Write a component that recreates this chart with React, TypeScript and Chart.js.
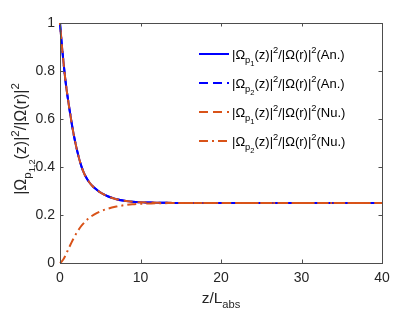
import React, { useEffect, useRef } from "react";
import { Chart, registerables } from "chart.js";

Chart.register(...registerables);

const zValues = [0, 0.25, 0.5, 0.75, 1, 1.25, 1.5, 1.75, 2, 2.5, 3, 3.5, 4, 4.5, 5, 6, 7, 8, 9, 10, 11, 12, 14, 16, 20, 25, 30, 35, 40];
const p1Analytic = [1, 0.9, 0.815, 0.74, 0.68, 0.625, 0.573, 0.527, 0.487, 0.42, 0.373, 0.343, 0.322, 0.307, 0.294, 0.277, 0.266, 0.259, 0.255, 0.253, 0.252, 0.251, 0.2505, 0.25, 0.25, 0.25, 0.25, 0.25, 0.25];
const p2Analytic = [1, 0.9, 0.815, 0.74, 0.68, 0.625, 0.573, 0.527, 0.487, 0.42, 0.373, 0.343, 0.322, 0.307, 0.294, 0.277, 0.266, 0.259, 0.255, 0.253, 0.252, 0.251, 0.2505, 0.25, 0.25, 0.25, 0.25, 0.25, 0.25];
const p1Numeric = [1, 0.9, 0.815, 0.74, 0.68, 0.625, 0.573, 0.527, 0.487, 0.42, 0.373, 0.343, 0.322, 0.307, 0.294, 0.277, 0.266, 0.259, 0.255, 0.253, 0.252, 0.251, 0.2505, 0.25, 0.25, 0.25, 0.25, 0.25, 0.25];
const p2Numeric = [0, 0.008, 0.02, 0.037, 0.055, 0.073, 0.09, 0.106, 0.122, 0.148, 0.168, 0.184, 0.197, 0.207, 0.215, 0.227, 0.235, 0.241, 0.245, 0.247, 0.248, 0.249, 0.2497, 0.25, 0.25, 0.25, 0.25, 0.25, 0.25];

const xTicks = [0, 10, 20, 30, 40];
const yTicks = [0, 0.2, 0.4, 0.6, 0.8, 1];

const BLUE = "#0000FF";
const ORANGE = "#D95319";
const FONT = "'Liberation Sans', Arial, Helvetica, sans-serif";
const TEXT = "#262626";

type Seg = { t: string; lv: number };
// lv: 0 normal, 1 sub, 2 sub-sub, -1 sup
const legendNames: Seg[][] = [
  [{ t: "|Ω", lv: 0 }, { t: "p", lv: 1 }, { t: "1", lv: 2 }, { t: "(z)|", lv: 0 }, { t: "2", lv: -1 }, { t: "/|Ω(r)|", lv: 0 }, { t: "2", lv: -1 }, { t: "(An.)", lv: 0 }],
  [{ t: "|Ω", lv: 0 }, { t: "p", lv: 1 }, { t: "2", lv: 2 }, { t: "(z)|", lv: 0 }, { t: "2", lv: -1 }, { t: "/|Ω(r)|", lv: 0 }, { t: "2", lv: -1 }, { t: "(An.)", lv: 0 }],
  [{ t: "|Ω", lv: 0 }, { t: "p", lv: 1 }, { t: "1", lv: 2 }, { t: "(z)|", lv: 0 }, { t: "2", lv: -1 }, { t: "/|Ω(r)|", lv: 0 }, { t: "2", lv: -1 }, { t: "(Nu.)", lv: 0 }],
  [{ t: "|Ω", lv: 0 }, { t: "p", lv: 1 }, { t: "2", lv: 2 }, { t: "(z)|", lv: 0 }, { t: "2", lv: -1 }, { t: "/|Ω(r)|", lv: 0 }, { t: "2", lv: -1 }, { t: "(Nu.)", lv: 0 }],
];
const yTitle: Seg[] = [{ t: "|Ω", lv: 0 }, { t: "p", lv: 1 }, { t: "1,2", lv: 2 }, { t: "(z)|", lv: 0 }, { t: "2", lv: -1 }, { t: "/|Ω(r)|", lv: 0 }, { t: "2", lv: -1 }];
const xTitle: Seg[] = [{ t: "z/L", lv: 0 }, { t: "abs", lv: 1 }];

function segStyle(lv: number, size: number) {
  if (lv === 1) return { s: size * 0.72, dy: size * 0.32 };
  if (lv === 2) return { s: size * 0.58, dy: size * 0.55 };
  if (lv === -1) return { s: size * 0.72, dy: -size * 0.42 };
  return { s: size, dy: 0 };
}

function richWidth(ctx: CanvasRenderingContext2D, segs: Seg[], size: number) {
  let w = 0;
  for (const sg of segs) {
    const st = segStyle(sg.lv, size);
    ctx.font = `${st.s}px ${FONT}`;
    w += ctx.measureText(sg.t).width;
  }
  return w;
}

function drawRich(ctx: CanvasRenderingContext2D, segs: Seg[], x: number, y: number, size: number) {
  let cx = x;
  ctx.textBaseline = "alphabetic";
  ctx.textAlign = "left";
  for (const sg of segs) {
    const st = segStyle(sg.lv, size);
    ctx.font = `${st.s}px ${FONT}`;
    ctx.fillText(sg.t, cx, y + st.dy);
    cx += ctx.measureText(sg.t).width;
  }
}

const styles = [
  { color: BLUE, dash: [] as number[] },
  { color: BLUE, dash: [9, 5] },
  { color: ORANGE, dash: [9, 5] },
  { color: ORANGE, dash: [9, 4, 2, 4] },
];

const decorPlugin = {
  id: "decor",
  afterDraw(chart: any) {
    const ctx: CanvasRenderingContext2D = chart.ctx;
    const { left, right, top, bottom } = chart.chartArea;
    const xs = chart.scales.x;
    const ys = chart.scales.y;
    ctx.save();
    ctx.strokeStyle = "#4d4d4d";
    ctx.lineWidth = 1;
    ctx.setLineDash([]);
    ctx.strokeRect(Math.round(left) + 0.5, Math.round(top) + 0.5, Math.round(right - left), Math.round(bottom - top));
    ctx.beginPath();
    for (const v of xTicks) {
      const px = Math.round(xs.getPixelForValue(v)) + 0.5;
      ctx.moveTo(px, bottom);
      ctx.lineTo(px, bottom - 3.5);
      ctx.moveTo(px, top);
      ctx.lineTo(px, top + 3.5);
    }
    for (const v of yTicks) {
      const py = Math.round(ys.getPixelForValue(v)) + 0.5;
      ctx.moveTo(left, py);
      ctx.lineTo(left + 3.5, py);
      ctx.moveTo(right, py);
      ctx.lineTo(right - 3.5, py);
    }
    ctx.stroke();

    // legend
    const legY = [54, 83, 112, 141];
    legendNames.forEach((segs, i) => {
      const y = legY[i];
      ctx.strokeStyle = styles[i].color;
      ctx.lineWidth = 2;
      ctx.setLineDash(styles[i].dash);
      ctx.beginPath();
      ctx.moveTo(199, y);
      ctx.lineTo(229, y);
      ctx.stroke();
      ctx.setLineDash([]);
      ctx.fillStyle = "#000";
      drawRich(ctx, segs, 232, y + 4.5, 13);
    });

    // x title
    ctx.fillStyle = TEXT;
    const xw = richWidth(ctx, xTitle, 15.5);
    drawRich(ctx, xTitle, (left + right) / 2 - xw / 2, 303, 15.5);

    // y title
    const yw = richWidth(ctx, yTitle, 16);
    ctx.translate(26, 139);
    ctx.rotate(-Math.PI / 2);
    drawRich(ctx, yTitle, -yw / 2, 0, 16);
    ctx.restore();
  },
};

export default function App() {
  const ref = useRef<HTMLCanvasElement | null>(null);
  useEffect(() => {
    document.body.style.margin = "0";
    const mk = (vals: number[]) => zValues.map((z, i) => ({ x: z, y: vals[i] }));
    const chart = new Chart(ref.current as HTMLCanvasElement, {
      type: "line",
      data: {
        datasets: [
          { label: "p1 An.", data: mk(p1Analytic), borderColor: BLUE, borderWidth: 2, pointRadius: 0, order: 4, clip: 3, cubicInterpolationMode: "monotone" },
          { label: "p2 An.", data: mk(p2Analytic), borderColor: BLUE, borderWidth: 2, borderDash: [9, 5], pointRadius: 0, order: 3, clip: 3, cubicInterpolationMode: "monotone" },
          { label: "p1 Nu.", data: mk(p1Numeric), borderColor: ORANGE, borderWidth: 2, borderDash: [9, 5], borderDashOffset: 7, pointRadius: 0, order: 2, clip: 3, cubicInterpolationMode: "monotone" },
          { label: "p2 Nu.", data: mk(p2Numeric), borderColor: ORANGE, borderWidth: 2, borderDash: [9, 4, 2, 4], pointRadius: 0, order: 1, clip: 3, cubicInterpolationMode: "monotone" },
        ],
      },
      options: {
        animation: false,
        responsive: false,
        maintainAspectRatio: false,
        layout: { padding: { left: 0, right: 33, top: 23, bottom: 0 } },
        plugins: { legend: { display: false }, tooltip: { enabled: false } },
        scales: {
          x: {
            type: "linear",
            min: 0,
            max: 40,
            afterFit: (s: any) => { s.height = 49; },
            afterBuildTicks: (s: any) => { s.ticks = xTicks.map((v) => ({ value: v })); },
            grid: { display: false, drawTicks: false },
            border: { display: false },
            ticks: { color: TEXT, font: { family: FONT, size: 14 }, padding: 7, maxRotation: 0 },
          },
          y: {
            type: "linear",
            min: 0,
            max: 1,
            afterFit: (s: any) => { s.width = 60; },
            afterBuildTicks: (s: any) => { s.ticks = yTicks.map((v) => ({ value: v })); },
            grid: { display: false, drawTicks: false },
            border: { display: false },
            ticks: { color: TEXT, font: { family: FONT, size: 14 }, padding: 5, callback: (v: any) => String(Math.round(Number(v) * 10) / 10) },
          },
        },
      },
      plugins: [decorPlugin],
    } as any);
    return () => chart.destroy();
  }, []);
  return <canvas ref={ref} width={415} height={312} style={{ display: "block", width: 415, height: 312 }} />;
}
